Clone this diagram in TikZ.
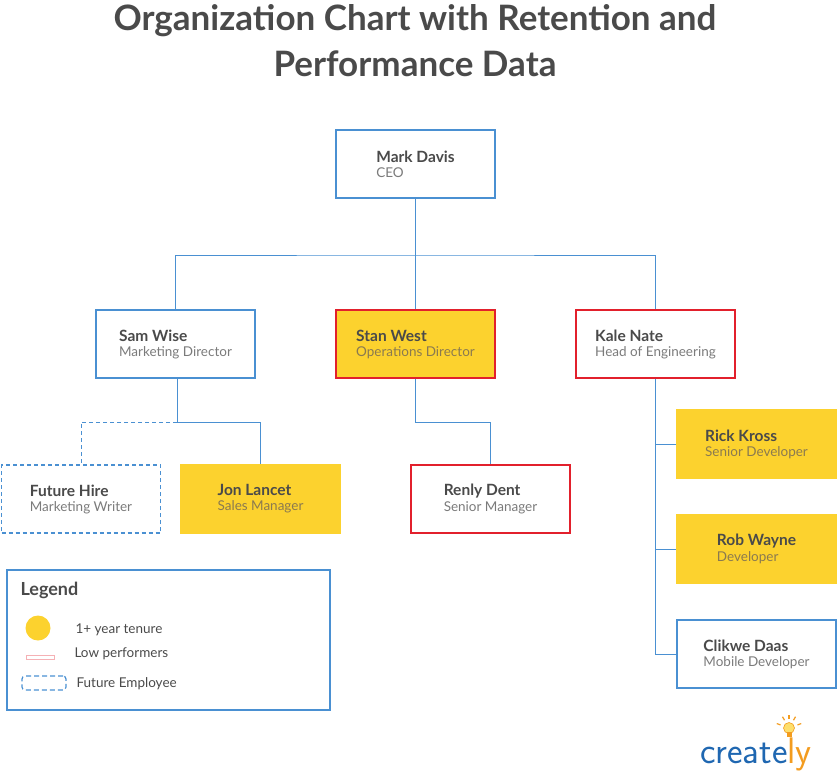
\documentclass[tikz,border=0pt]{standalone}
\usepackage{fontspec}
\setmainfont{Lato}
\begin{document}
\begin{tikzpicture}[x=1pt,y=-1pt,
 box/.style={draw=bl,line width=1.2pt,minimum width=159pt,minimum height=68pt,fill=white},
 ybox/.style={box,fill=yl,draw=yl},
 rbox/.style={box,draw=rd},
 yrbox/.style={box,fill=yl,draw=rd},
 dbox/.style={box,dashed,dash pattern=on 4pt off 3pt},
 ln/.style={draw=bl,line width=1pt},
 tx/.style={align=left,inner sep=0pt}]
\definecolor{bl}{HTML}{4A90D2}
\definecolor{rd}{HTML}{E2202C}
\definecolor{yl}{HTML}{FCD22E}
\definecolor{dk}{HTML}{4A4A4A}
\definecolor{gr}{HTML}{7B7B7B}
\definecolor{gd}{HTML}{8A7A50}
\definecolor{or}{HTML}{F39C1F}
\definecolor{cb}{HTML}{1F67B1}
\useasboundingbox (0,0) rectangle (837,772);
\newcommand{\nm}[2]{{\fontsize{15.5}{18}\selectfont\bfseries\color{dk}#1}\\[3pt]{\fontsize{13.5}{16}\selectfont\color{gr}#2}}
\newcommand{\nmy}[2]{{\fontsize{15.5}{18}\selectfont\bfseries\color{dk}#1}\\[3pt]{\fontsize{13.5}{16}\selectfont\color{gd}#2}}
\node[font=\fontsize{35}{46}\selectfont\bfseries,text=dk,align=center] (title) at (415,41) {Organization Chart with Retention and\\Performance Data};
\node[box] (mark) at (415.5,164) {}; \node[tx] (markt) at (mark) {\nm{Mark Davis}{CEO}};
\node[box] (sam) at (175.5,344) {}; \node[tx] at (sam) {\nm{Sam Wise}{Marketing Director}};
\node[yrbox] (stan) at (415.5,344) {}; \node[tx] at (stan) {\nmy{Stan West}{Operations Director}};
\node[rbox] (kale) at (655.5,344) {}; \node[tx] at (kale) {\nm{Kale Nate}{Head of Engineering}};
\node[dbox] (fut) at (81,499) {}; \node[tx] at (fut) {\nm{Future Hire}{Marketing Writer}};
\node[ybox] (jon) at (260.5,499) {}; \node[tx] at (jon) {\nmy{Jon Lancet}{Sales Manager}};
\node[rbox] (ren) at (490.5,499) {}; \node[tx] at (ren) {\nm{Renly Dent}{Senior Manager}};
\node[ybox] (rick) at (756.5,444) {}; \node[tx] at (rick) {\nmy{Rick Kross}{Senior Developer}};
\node[ybox] (rob) at (756.5,549) {}; \node[tx] at (rob) {\nmy{Rob Wayne}{Developer}};
\node[box] (cli) at (756.5,654) {}; \node[tx] at (cli) {\nm{Clikwe Daas}{Mobile Developer}};
\coordinate (j1) at (415.5,255);
\draw[ln] (mark.south) -- (j1);
\draw[ln] (sam.north) |- (j1) -| (kale.north);
\draw[ln] (j1) -- (stan.north);
\coordinate (j2) at (177,422);
\draw[ln] (177,378) -- (j2) -| (jon.north);
\draw[ln,dashed,dash pattern=on 4pt off 3pt] (j2) -| (fut.north);
\draw[ln] (stan.south) |- (ren.north |- 0,422) -- (ren.north);
\draw[ln] (kale.south) |- (cli.west);
\draw[ln] (656,444) -- (rick.west);
\draw[ln] (656,549) -- (rob.west);
% legend
\node[draw=bl,line width=2pt,minimum width=323pt,minimum height=140pt] (leg) at (168.5,640) {};
\node[anchor=west,font=\fontsize{18}{22}\selectfont\bfseries,text=dk] (legt) at (17,590) {Legend};
\node[circle,fill=yl,minimum size=25pt,inner sep=0pt] (c1) at (38,628) {};
\node[draw=rd!35,minimum width=28pt,minimum height=4pt,inner sep=0pt] (c2) at (40.5,657) {};
\node[draw=bl,line width=1.2pt,dashed,dash pattern=on 5pt off 3pt,rounded corners=3pt,minimum width=44pt,minimum height=14pt,inner sep=0pt] (c3) at (44,683) {};
\node[anchor=west,font=\fontsize{13.5}{16}\selectfont,text=dk] at (72,630) {1+ year tenure};
\node[anchor=west,font=\fontsize{13.5}{16}\selectfont,text=dk] at (71,654) {Low performers};
\node[anchor=west,font=\fontsize{13.5}{16}\selectfont,text=dk] at (73,684) {Future Employee};
% logo
\node[anchor=base west,inner sep=0pt,font=\fontsize{37}{40}\selectfont\sffamily] (logo) at (700,763) {\textcolor{cb}{create}\textcolor{or}{ly}};
\fill[yl!70!white,draw=or,line width=0.6pt] (789,728) circle (5.5);
\fill[or] (786.5,732) rectangle (791.5,737);
\foreach \a in {20,60,90,120,160}{\draw[or,line width=1.2pt] (789,728) ++(\a+180:9) -- ++(\a+180:4);}
\end{tikzpicture}
\end{document}
